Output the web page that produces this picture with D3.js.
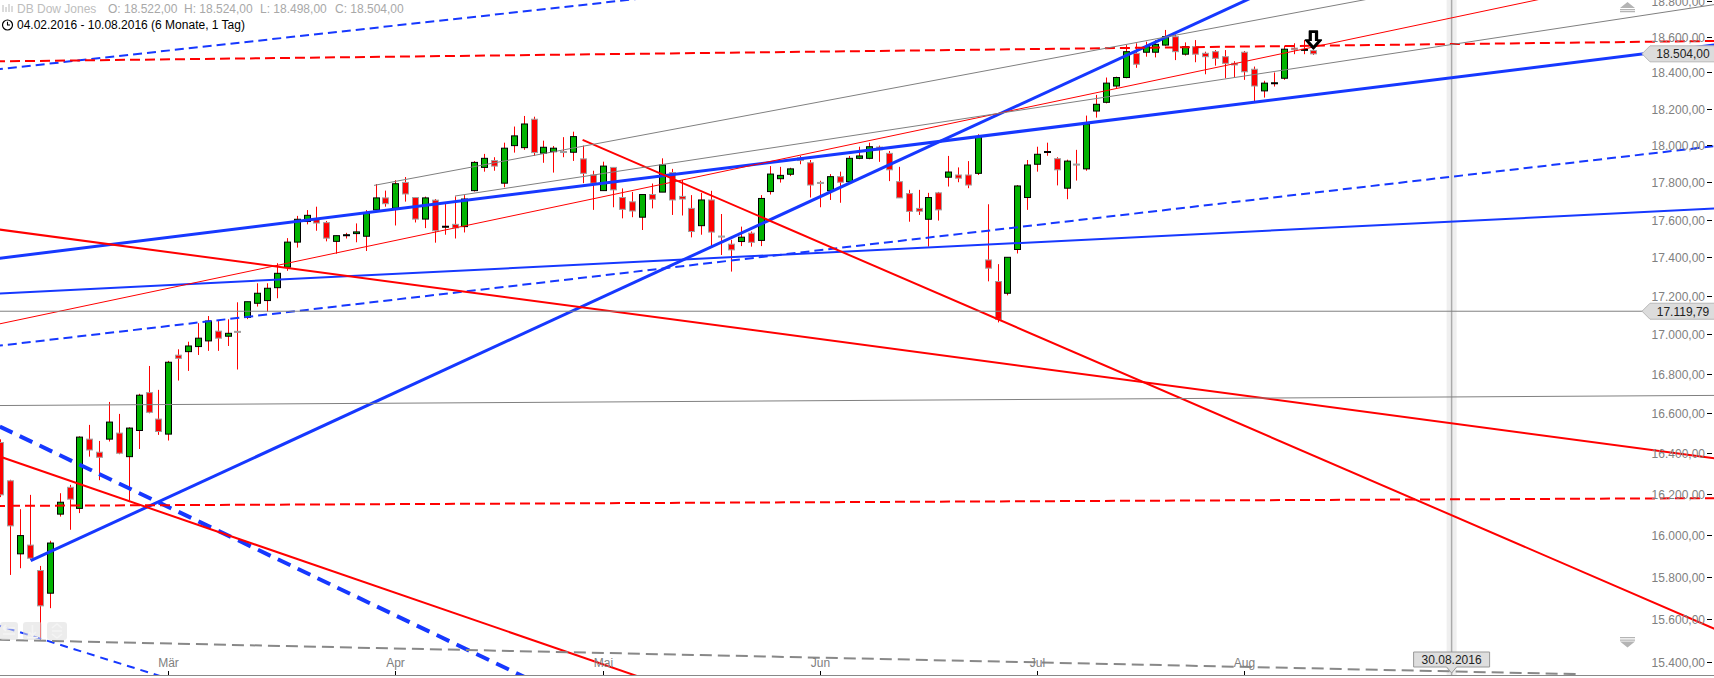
<!DOCTYPE html>
<html><head><meta charset="utf-8">
<script src="https://cdn.jsdelivr.net/npm/d3@7"></script>
<style>
html,body{margin:0;padding:0;background:#fff;overflow:hidden}
svg{display:block;font-family:"Liberation Sans",Arial,sans-serif}
</style></head><body>
<svg id="c" width="1714" height="678"></svg>
<script>
// ---------------- DATA ----------------
const seriesName = "DB Dow Jones";
const rangeText = "04.02.2016 - 10.08.2016 (6 Monate, 1 Tag)";
const firstDay = "2016-02-04", lastDay = "2016-08-31";
const open  = [16373,16454,16265,15910,15952,15830,15722,16102,16233,16130,16471,16406,16471,16501,16384,16514,16704,16571,16496,16894,16912,16938,16967,17017,16991,17016,17088,17161,17175,17242,17349,17481,17590,17601,17584,17485,17515,17526,17512,17652,17716,17661,17799,17718,17603,17704,17563,17575,17563,17755,17880,17917,17795,17998,17987,18142,17957,17965,17966,17962,17926,17839,17755,17880,17718,17695,17613,17734,17747,17852,17724,17660,17568,17705,17513,17470,17484,17528,17490,17750,17819,17843,17932,17905,17799,17754,17830,17803,17929,17929,17990,17956,17803,17739,17660,17602,17743,17827,17839,17839,17848,17387,17274,17213,17442,17718,17897,17964,17927,17768,17898,17872,18187,18235,18325,18372,18507,18513,18513,18553,18600,18502,18544,18507,18516,18488,18451,18513,18418,18298,18341,18368,18536,18527,18522];
const high  = [16510,16470,16270,16126,16196,15852,15973,16204,16245,16485,16542,16462,16657,16597,16530,16698,16839,16718,16865,16924,16963,17058,17095,17069,17078,17166,17169,17265,17265,17370,17502,17620,17651,17669,17593,17516,17530,17580,17651,17790,17755,17811,17828,17718,17723,17710,17683,17724,17731,17914,17953,17935,18014,18102,18160,18156,18025,17996,18044,18074,17998,17862,17911,17880,17767,17748,17734,17793,17929,17872,17812,17731,17743,17754,17630,17493,17563,17537,17731,17887,17883,17878,17942,17920,17808,17844,17857,17942,17992,18014,17998,17969,17883,17759,17759,17743,17748,17942,17880,17914,18060,17682,17365,17401,17785,17920,17992,18014,17935,17922,17975,18162,18276,18372,18377,18553,18563,18572,18581,18638,18613,18568,18581,18516,18525,18525,18463,18520,18433,18354,18400,18550,18563,18581,18524];
const low   = [16289,16185,15809,15841,15881,15502,15651,16090,16026,16107,16384,16268,16459,16396,16168,16422,16600,16492,16464,16765,16814,16895,16916,16916,16941,16821,17079,17144,17118,17187,17330,17452,17575,17541,17485,17420,17500,17480,17434,17652,17669,17569,17696,17585,17555,17478,17520,17500,17532,17750,17857,17862,17773,17960,17975,17942,17905,17852,17935,17915,17795,17652,17755,17666,17607,17613,17545,17660,17747,17625,17622,17506,17520,17460,17413,17326,17460,17457,17460,17734,17798,17833,17897,17718,17666,17705,17690,17795,17924,17924,17910,17806,17716,17589,17625,17457,17595,17777,17800,17768,17839,17275,17062,17202,17421,17652,17857,17943,17783,17709,17809,17862,18151,18229,18312,18368,18426,18488,18484,18549,18469,18494,18457,18390,18438,18368,18372,18359,18241,18261,18322,18359,18502,18502,18498];
const close = [16416,16196,16045,15998,15889,15662,15962,16160,16175,16481,16417,16381,16556,16401,16526,16691,16605,16509,16858,16878,16941,16981,17069,16981,17006,17013,17169,17213,17239,17317,17481,17602,17623,17582,17502,17515,17520,17535,17633,17716,17685,17792,17737,17603,17716,17541,17565,17556,17710,17907,17929,17887,17984,18051,18116,17960,17989,17984,17964,18047,17848,17795,17887,17759,17655,17646,17734,17709,17893,17705,17710,17537,17705,17534,17511,17440,17507,17480,17713,17844,17837,17872,17917,17785,17797,17830,17800,17929,17942,17992,17975,17867,17716,17644,17645,17718,17652,17855,17822,17785,18047,17344,17078,17401,17780,17893,17951,17966,17867,17914,17896,18116,18224,18341,18372,18516,18446,18544,18557,18600,18516,18544,18502,18488,18479,18451,18442,18404,18325,18341,18343,18530,18527,18529,18504];
const yTickValues = [15400,15600,15800,16000,16200,16400,16600,16800,17000,17200,17400,17600,17800,18000,18200,18400,18600,18800];
const monthTicks = [["2016-03-01","Mär"],["2016-04-01","Apr"],["2016-05-02","Mai"],["2016-06-01","Jun"],["2016-07-01","Jul"],["2016-08-01","Aug"]];
const lastQuote = {O:18522, H:18524, L:18498, C:18504};
const markerDate = "2016-08-30", markerLabel = "30.08.2016";
const levelLine = 17119.79;
// trend lines: [slot1, price1, slot2, price2, startSlot|null, endSlot|null]
const trendLines = [
  [0.951,18419, 64.47,18807, null,null],
  [0.951,16943, 174.58,17995, null,null],
  [0.951,17212, 174.58,17659, null,null],
  [0.951,17396, 174.58,18553, null,null],
  [4.06,15877, 90.1,17871, 4.06,null],
  [0.951,16533, 45.52,15517, null,null],
  [0.951,15567, 16.15,15348, null,null],
  [0.951,18462, 174.58,18576, null,null],
  [0.951,16142, 174.58,16180, null,null],
  [0.951,17547, 174.58,16376, null,null],
  [59.97,18029, 174.58,15555, 59.97,null],
  [0.951,16384, 45.52,15651, null,null],
  [0.951,17055, 134.67,18550, null,null],
  [38.84,17783, 85.03,18248, 38.84,null],
  [47.04,17726, 174.58,18781, 47.04,null],
  [0.951,16639, 174.58,16690, null,null],
  [0.951,levelLine, 174.58,levelLine, null,null],
  [0.951,15502, 161.0,15342, null,161.0]
];
// ---------------- STYLES ----------------
const BLUE="#1638ff", RED="#ff0000", GRAY="#808080";
const trendStyles = [
  [BLUE,2,"9,5"],[BLUE,2,"9,5"],[BLUE,2,null],[BLUE,3,null],[BLUE,3,null],
  [BLUE,4,"14,8"],[BLUE,2,"8,6"],[RED,2,"10,5"],[RED,2,"10,5"],[RED,2,null],
  [RED,2,null],[RED,2,null],[RED,1,null],[GRAY,1,null],[GRAY,1,null],
  [GRAY,1,null],[GRAY,1,null],["#888",2,"12,6"]
];

// ---------------- SETUP ----------------
const W=1714, H=678, axisY=675;
const svg = d3.select("#c");
const dates=[];
for(let t=Date.parse(firstDay+"T00:00:00Z"); t<=Date.parse(lastDay+"T00:00:00Z"); t+=864e5){
  const d=new Date(t), w=d.getUTCDay(); if(w>0&&w<6) dates.push(d.toISOString().slice(0,10));
}
const slot = new Map(dates.map((d,i)=>[d,i]));
const x = d3.scaleLinear().domain([0,100]).range([-9.39, 977.77]);
const y = d3.scaleLog().domain([15400,18600]).range([661.7,36.7]);
const de = d3.formatLocale({decimal:",",thousands:".",grouping:[3],currency:["","€"]});
const fmt = de.format(",.2f");

svg.append("defs").append("clipPath").attr("id","plot").append("rect").attr("x",0).attr("y",0).attr("width",W).attr("height",axisY);

// vertical marker
const mx = x(slot.get(markerDate));
svg.append("rect").attr("x",mx-5).attr("y",0).attr("width",10).attr("height",axisY).attr("fill","#efefef");
svg.append("line").attr("x1",mx).attr("x2",mx).attr("y1",0).attr("y2",axisY).attr("stroke","#aaa").attr("stroke-width",1.5);

// candles
const plot = svg.append("g").attr("clip-path","url(#plot)");
const candles = d3.range(open.length);
const cg = plot.append("g");
cg.selectAll("line.w").data(candles).join("line")
  .attr("x1",i=>Math.round(x(i))+0.5).attr("x2",i=>Math.round(x(i))+0.5)
  .attr("y1",i=>y(high[i])).attr("y2",i=>y(low[i]))
  .attr("stroke",RED).attr("stroke-width",1);
cg.selectAll("rect.b").data(candles).join("rect")
  .attr("x",i=>Math.round(x(i))-2.5).attr("width",6)
  .attr("y",i=>y(Math.max(open[i],close[i])))
  .attr("height",i=>Math.max(1,y(Math.min(open[i],close[i]))-y(Math.max(open[i],close[i]))))
  .attr("fill",i=>close[i]>=open[i]?"#00b300":RED)
  .attr("stroke",i=>close[i]>=open[i]?"#000":"#a0a0a0").attr("stroke-width",1);

// trend lines
const lg = plot.append("g");
trendLines.forEach((l,k)=>{
  const [i1,p1,i2,p2,s,e]=l;
  const X1=x(i1),Y1=y(p1),X2=x(i2),Y2=y(p2);
  const m=(Y2-Y1)/(X2-X1);
  const xs = s==null? -20 : x(s), xe = e==null? W+20 : x(e);
  const st=trendStyles[k];
  lg.append("line").attr("x1",xs).attr("y1",Y1+m*(xs-X1)).attr("x2",xe).attr("y2",Y1+m*(xe-X1))
    .attr("stroke",st[0]).attr("stroke-width",st[1]).attr("stroke-dasharray",st[2]).attr("fill","none");
});

// x axis
svg.append("line").attr("x1",0).attr("x2",W).attr("y1",axisY+0.5).attr("y2",axisY+0.5).attr("stroke","#888").attr("stroke-width",1);
const xt = svg.append("g");
monthTicks.forEach(([d,lab])=>{
  const px=Math.round(x(slot.get(d)))+0.5;
  xt.append("line").attr("x1",px).attr("x2",px).attr("y1",axisY-4).attr("y2",axisY).attr("stroke","#000");
  xt.append("text").attr("x",px).attr("y",667).attr("text-anchor","middle").attr("font-size",12).attr("fill","#808080").text(lab);
});

// y axis labels
const ya = svg.append("g");
yTickValues.forEach(v=>{
  const py=Math.round(y(v))+0.5;
  ya.append("line").attr("x1",1707).attr("x2",1712).attr("y1",py).attr("y2",py).attr("stroke","#000");
  ya.append("text").attr("x",1705).attr("y",py+4).attr("text-anchor","end").attr("font-size",12).attr("fill","#808080").text(fmt(v));
});

// price tags
function tag(v){
  const py=y(v);
  const g=svg.append("g");
  g.append("path").attr("d",`M1642,${py} L1650,${py-8} L1716,${py-8} L1716,${py+8} L1650,${py+8} Z`).attr("fill","#dcdcdc").attr("stroke","#b8b8b8");
  g.append("text").attr("x",1683).attr("y",py+4.5).attr("text-anchor","middle").attr("font-size",12).attr("fill","#222").text(fmt(v));
}
tag(lastQuote.C); tag(levelLine);

// date marker label
const lb = svg.append("g");
lb.append("path").attr("d",`M${mx-38},652 L${mx+38},652 L${mx+38},667 L${mx+5},667 L${mx},673 L${mx-5},667 L${mx-38},667 Z`).attr("fill","#dedede").attr("stroke","#999");
lb.append("text").attr("x",mx).attr("y",663.5).attr("text-anchor","middle").attr("font-size",12).attr("fill","#222").text(markerLabel);

// scroll arrows
svg.append("path").attr("d","M1620,8 L1627.5,2 L1635,8 Z M1620,9 h15 v1.2 h-15 Z M1620,11 h15 v1.2 h-15 Z").attr("fill","#b4b4b4");
svg.append("path").attr("d","M1620,637 h15 v1.2 h-15 Z M1620,639.5 h15 v1.2 h-15 Z M1620,641.5 L1635,641.5 L1627.5,647.5 Z").attr("fill","#b4b4b4");

// bottom-left tool buttons
[[0,18],[23,19],[47,20]].forEach(([bx,bw])=>{
  svg.append("rect").attr("x",bx).attr("y",622).attr("width",bw).attr("height",18).attr("rx",3).attr("fill","#dcdcdc").attr("opacity",0.55);
});
const bi = svg.append("g").attr("stroke","#f4f4f4").attr("stroke-width",1.6).attr("fill","none");
bi.append("path").attr("d","M3,628 h12 M3,628 l3,-3 M3,628 l3,3 M3,634 h12");
bi.append("path").attr("d","M32.5,625 v10 M29,632 l3.5,3.5 l3.5,-3.5 M27,637.5 h11");
bi.append("path").attr("d","M52,628 l5,-4 l5,4 M52,634 l5,4 l5,-4 M52,631 h10");

// last candle marker arrow
const ax = x(open.length-1);
svg.append("path").attr("d",`M${ax-4},31 h8 v9 h4 l-8,9 l-8,-9 h4 Z`).attr("fill","#000").attr("stroke","#000").attr("stroke-width",1.5).attr("stroke-linejoin","round");
svg.append("path").attr("d",`M${ax-1.5},33 h3 v8 h2.5 l-4,4.5 l-4,-4.5 h2.5 Z`).attr("fill","#fff");

// header
const hd = svg.append("g").attr("font-size",12);
const ic = hd.append("g").attr("stroke","#b8b8b8").attr("stroke-width",1);
[[3,5,12],[6,7,12],[9,4,12],[12,6,12]].forEach(([ix,a,b])=>ic.append("line").attr("x1",ix).attr("x2",ix).attr("y1",a).attr("y2",b));
hd.append("text").attr("x",17).attr("y",12.5).attr("fill","#bdbdbd").text(seriesName);
[["O",lastQuote.O,108],["H",lastQuote.H,184],["L",lastQuote.L,260],["C",lastQuote.C,335]].forEach(([k,v,tx])=>{
  hd.append("text").attr("x",tx).attr("y",12.5).attr("fill","#a8a8a8").text(`${k}: ${fmt(v)}`);
});
hd.append("circle").attr("cx",7.5).attr("cy",25).attr("r",5).attr("fill","none").attr("stroke","#000").attr("stroke-width",1.2);
hd.append("path").attr("d","M7.5,21.8 V25 H10").attr("fill","none").attr("stroke","#000").attr("stroke-width",1.1);
hd.append("text").attr("x",17).attr("y",29).attr("fill","#000").text(rangeText);
</script>
</body></html>
